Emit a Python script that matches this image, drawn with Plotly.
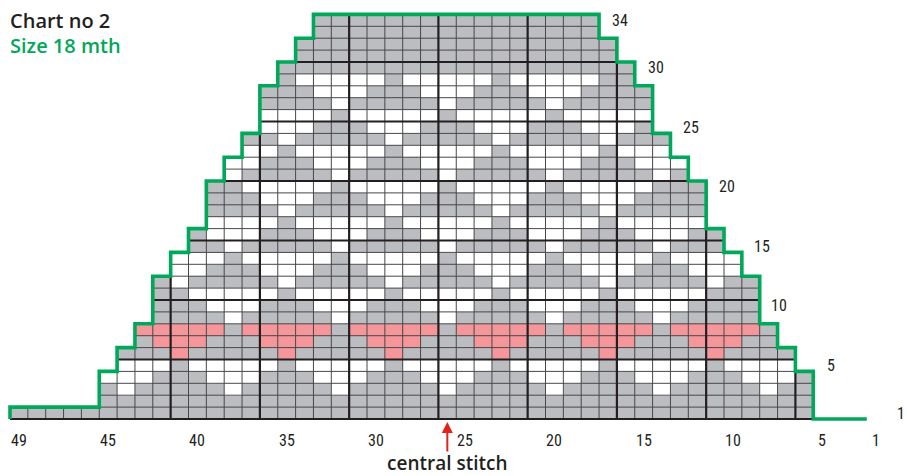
import plotly.graph_objects as go

# ---------------- data ----------------
# one entry per chart row (row 1 at the bottom); first column index of the row
ROW_NUMBERS = list(range(1, 35))
ROW_START = [0, 5, 5, 5, 6, 6, 7, 7, 8, 8, 8, 8, 9, 9, 10, 10, 11, 11, 11, 11,
             12, 12, 13, 13, 14, 14, 14, 14, 15, 15, 16, 16, 17, 17]
# cell colours from left to right: G = grey, W = white, P = pink
ROW_CELLS = [
    "GGGGGG GGGGGG GGGGGG GGGGGG GGGGGG GGGGGG GGGGGG GGG",   # 1
    "G GGGGGG GGGGGG GGGGGG GGGGGG GGGGGG GGGGGG GGG",        # 2
    "G WGGGGG WGGGGG WGGGGG WGGGGG WGGGGG WGGGGG WGG",        # 3
    "W WWGGGW WWGGGW WWGGGW WWGGGW WWGGGW WWGGGW WWG",        # 4
    "WWWGWW WWWGWW WWWGWW WWWGWW WWWGWW WWWGWW WW",           # 5
    "GGGPGG GGGPGG GGGPGG GGGPGG GGGPGG GGGPGG GG",           # 6
    "GPPPG GGPPPG GGPPPG GGPPPG GGPPPG GGPPPG G",             # 7
    "PPPPP GPPPPP GPPPPP GPPPPP GPPPPP GPPPPP G",             # 8
    "GGGG WGGGGG WGGGGG WGGGGG WGGGGG WGGGGG",                # 9
    "GGGW WWGGGW WWGGGW WWGGGW WWGGGW WWGGGG",                # 10
    "GGWW WWWGWW WWWGWW WWWGWW WWWGWW WWWGGG",                # 11
    "GWGG GGGWGG GGGWGG GGGWGG GGGWGG GGGWGG",                # 12
    "WWG GGWWWG GGWWWG GGWWWG GGWWWG GGWWW",                  # 13
    "WWW GWWWWW GWWWWW GWWWWW GWWWWW GWWWW",                  # 14
    "GG WGGGGG WGGGGG WGGGGG WGGGGG WGGG",                    # 15
    "GW WWGGGW WWGGGW WWGGGW WWGGGW WWGG",                    # 16
    "W WWWGWW WWWGWW WWWGWW WWWGWW WWW",                      # 17
    "G GGGWGG GGGWGG GGGWGG GGGWGG GGG",                      # 18
    "G GGWWWG GGWWWG GGWWWG GGWWWG GGG",                      # 19
    "G GWWWWW GWWWWW GWWWWW GWWWWW GGG",                      # 20
    "WGGGGG WGGGGG WGGGGG WGGGGG WG",                         # 21
    "WWGGGW WWGGGW WWGGGW WWGGGW WW",                         # 22
    "WWGWW WWWGWW WWWGWW WWWGWW W",                           # 23
    "GGWGG GGGWGG GGGWGG GGGWGG G",                           # 24
    "WWWG GGWWWG GGWWWG GGWWWG",                              # 25
    "WWWW GWWWWW GWWWWW GWWWWW",                              # 26
    "GGGG WGGGGG WGGGGG WGGGGG",                              # 27
    "GGGW WWGGGW WWGGGW WWGGGG",                              # 28
    "GWW WWWGWW WWWGWW WWWGG",                                # 29
    "GGG GGGGGG GGGGGG GGGGG",                                # 30
    "GG GGGGGG GGGGGG GGGG",                                  # 31
    "GG GGGGGG GGGGGG GGGG",                                  # 32
    "G GGGGGG GGGGGG GGG",                                    # 33
    "G GGGGGG GGGGGG GGG",                                    # 34
]
N_COLS = 49
TAIL_END = 48           # bottom outline runs on to this column
CENTRAL_COL = 24        # column of the central stitch

STITCH_LABELS = ["49", "45", "40", "35", "30", "25", "20", "15", "10", "5", "1"]
STITCH_LABEL_COL = [0, 5, 10, 15, 20, 25, 30, 35, 40, 45, 48]
ROW_LABELS = ["34", "30", "25", "20", "15", "10", "5", "1"]
ROW_LABEL_ROW = [34, 30, 25, 20, 15, 10, 5, 1]

# ---------------- styling / layout ----------------
GREY = "#bcbdc0"
WHITE = "#ffffff"
PINK = "#f5969b"
GREEN = "#00a859"
INK = "#231f20"
RED = "#e2231a"
CODES = {"G": 0, "W": 1, "P": 2}
ROW_LABEL_X = [34.17, 36.19, 38.15, 40.17, 42.13, 43.08, 45.99, 49.92]

PX_X0, PX_PER_COL = 10.0, 17.85     # pixel x of column 0 edge, width of a column
PX_Y0, PX_PER_ROW = 419.0, 11.9     # pixel y of chart bottom, height of a row
W, H = 907, 476
NUM_FONT = "Liberation Sans Narrow, Roboto Condensed, DejaVu Sans Condensed, Roboto, sans-serif"
TXT_FONT = "Open Sans, Lato, sans-serif"


def py2y(p):
    return (PX_Y0 - p) / PX_PER_ROW


cells = [c.replace(" ", "") for c in ROW_CELLS]
n_rows = len(cells)
ends = [s + len(c) for s, c in zip(ROW_START, cells)]   # exclusive

z = [[None] * N_COLS for _ in range(n_rows)]
for ri, (s, c) in enumerate(zip(ROW_START, cells)):
    for j, ch in enumerate(c):
        z[ri][s + j] = CODES[ch]

fig = go.Figure()
fig.add_trace(go.Heatmap(
    z=z, x=[k + 0.5 for k in range(N_COLS)], y=[r - 0.5 for r in ROW_NUMBERS],
    colorscale=[[0, GREY], [0.25, GREY], [0.25, WHITE], [0.75, WHITE],
                [0.75, PINK], [1, PINK]],
    zmin=0, zmax=2, showscale=False, hoverinfo="skip", zsmooth=False))

thin_x, thin_y, thick_x, thick_y = [], [], [], []


def add(xs, ys, x0, y0, x1, y1):
    xs += [x0, x1, None]
    ys += [y0, y1, None]


# horizontal grid lines
for j in range(n_rows + 1):
    touch = [r for r in (j - 1, j) if 0 <= r < n_rows]
    x0 = min(ROW_START[r] for r in touch)
    x1 = max(ends[r] for r in touch)
    if j % 5 == 0:
        add(thick_x, thick_y, x0, j, x1, j)
    else:
        add(thin_x, thin_y, x0, j, x1, j)

# vertical grid lines
for i in range(max(ends) + 1):
    rows_in = [r for r in range(n_rows) if ROW_START[r] <= i <= ends[r]]
    if not rows_in:
        continue
    runs, cur = [], [rows_in[0]]
    for r in rows_in[1:]:
        if r == cur[-1] + 1:
            cur.append(r)
        else:
            runs.append(cur)
            cur = [r]
    runs.append(cur)
    thick = i >= 9 and (i - 4) % 5 == 0
    for run in runs:
        if thick:
            add(thick_x, thick_y, i, run[0], i, run[-1] + 1)
        else:
            add(thin_x, thin_y, i, run[0], i, run[-1] + 1)

fig.add_trace(go.Scatter(x=thin_x, y=thin_y, mode="lines",
                         line=dict(color="#48484a", width=1), hoverinfo="skip"))
fig.add_trace(go.Scatter(x=thick_x, y=thick_y, mode="lines",
                         line=dict(color=INK, width=2.2), hoverinfo="skip"))

# green outline
ox, oy = [], []
for r in range(n_rows):
    ox += [ROW_START[r], ROW_START[r]]
    oy += [r, r + 1]
for r in reversed(range(n_rows)):
    ox += [ends[r], ends[r]]
    oy += [r + 1, r]
ox.append(TAIL_END)
oy.append(0)
fig.add_trace(go.Scatter(x=ox, y=oy, mode="lines",
                         line=dict(color=GREEN, width=3.6), hoverinfo="skip"))

ann = []
ann.append(dict(text="Chart no 2", x=8 / W, y=1 - 21 / H, xref="paper", yref="paper",
                xanchor="left", yanchor="middle", showarrow=False,
                font=dict(family=TXT_FONT, size=20, color=INK, weight=600)))
ann.append(dict(text="Size 18 mth", x=8 / W, y=1 - 45 / H, xref="paper", yref="paper",
                xanchor="left", yanchor="middle", showarrow=False,
                font=dict(family=TXT_FONT, size=20, color=GREEN, weight=600)))
for t, c in zip(STITCH_LABELS, STITCH_LABEL_COL):
    ann.append(dict(text=t, x=c + 0.5, y=py2y(440), xref="x", yref="y",
                    showarrow=False, xanchor="center", yanchor="middle",
                    font=dict(family=NUM_FONT, size=16, color=INK)))
for t, r, xx in zip(ROW_LABELS, ROW_LABEL_ROW, ROW_LABEL_X):
    ann.append(dict(text=t, x=xx, y=r - 0.5, xref="x", yref="y",
                    showarrow=False, xanchor="center", yanchor="middle",
                    font=dict(family=NUM_FONT, size=16, color=INK)))
ann.append(dict(text="central stitch", x=CENTRAL_COL + 0.5, y=py2y(463), xref="x", yref="y",
                showarrow=False, xanchor="center", yanchor="middle",
                font=dict(family=TXT_FONT, size=19, color=INK, weight=600)))
ann.append(dict(text="", x=CENTRAL_COL + 0.5, y=py2y(422), xref="x", yref="y",
                showarrow=True, ax=0, ay=31, arrowhead=2, arrowsize=1.1,
                arrowwidth=2, arrowcolor=RED))

fig.update_layout(
    width=W, height=H, margin=dict(l=0, r=0, t=0, b=0),
    paper_bgcolor="white", plot_bgcolor="white", showlegend=False,
    xaxis=dict(range=[-PX_X0 / PX_PER_COL, (W - PX_X0) / PX_PER_COL], visible=False,
               fixedrange=True),
    yaxis=dict(range=[py2y(H), py2y(0)], visible=False, fixedrange=True),
    annotations=ann,
)

fig.write_html("out.html", config={"displayModeBar": False},
               post_script="document.body.style.margin='0';")
